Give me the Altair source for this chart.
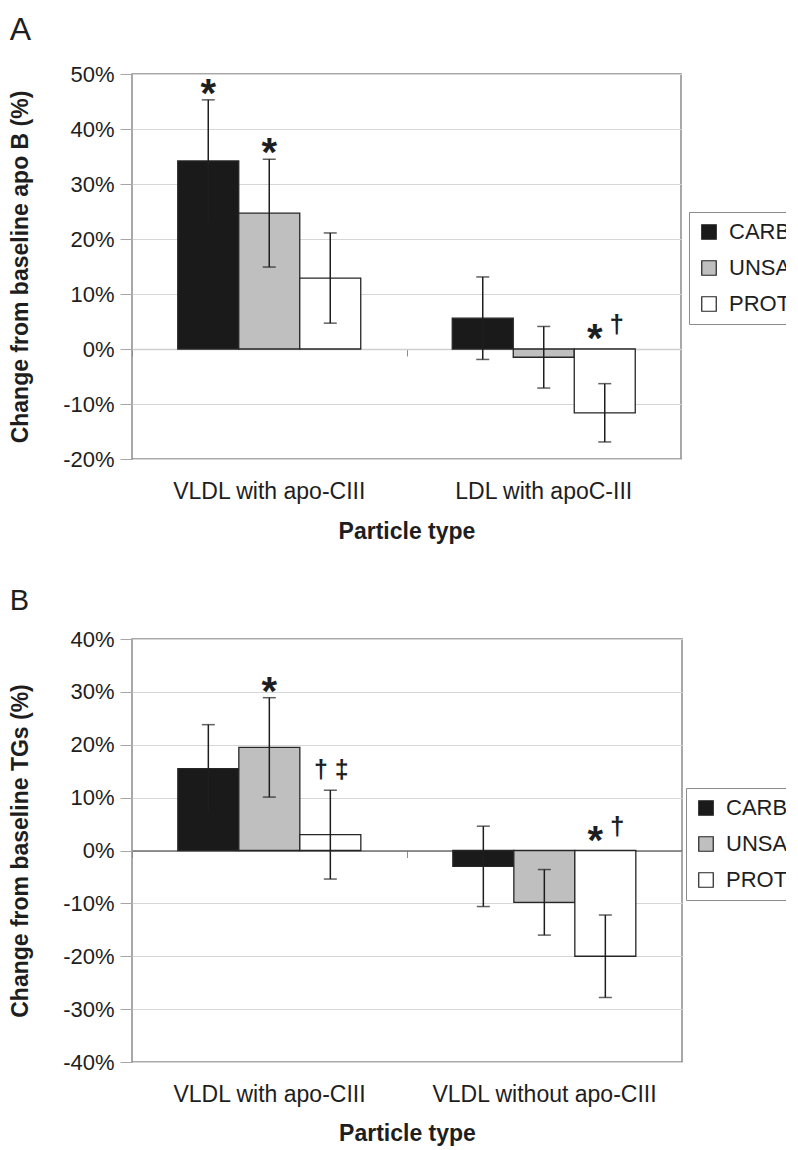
import altair as alt
import pandas as pd

FONT = "Liberation Sans"
SERIES = ["CARB", "UNSAT", "PROT"]
COLORS = ["#1a1a1a", "#bfbfbf", "#ffffff"]

# Panel A: change from baseline apo B (%)
A_GROUPS = ["VLDL with apo-CIII", "LDL with apoC-III"]
A_CARB = [34.2, 5.6]
A_UNSAT = [24.7, -1.5]
A_PROT = [12.9, -11.6]
A_CARB_ERR = [11.1, 7.5]
A_UNSAT_ERR = [9.8, 5.6]
A_PROT_ERR = [8.2, 5.3]
A_MARKS = [("VLDL with apo-CIII", "CARB", "*"),
           ("VLDL with apo-CIII", "UNSAT", "*"),
           ("LDL with apoC-III", "PROT", "* \u2020")]

# Panel B: change from baseline TGs (%)
B_GROUPS = ["VLDL with apo-CIII", "VLDL without apo-CIII"]
B_CARB = [15.5, -3.0]
B_UNSAT = [19.5, -9.8]
B_PROT = [3.0, -20.0]
B_CARB_ERR = [8.3, 7.6]
B_UNSAT_ERR = [9.4, 6.2]
B_PROT_ERR = [8.4, 7.8]
B_MARKS = [("VLDL with apo-CIII", "UNSAT", "*"),
           ("VLDL with apo-CIII", "PROT", "\u2020 \u2021"),
           ("VLDL without apo-CIII", "PROT", "* \u2020")]


def panel(groups, vals, errs, marks, ymin, ymax, width, height, letter,
          letter_size, title_offset, ytitle, legend_xy, zero_color,
          xlab_pad, xtitle_pad):
    rows = []
    for s, vl, el in zip(SERIES, vals, errs):
        for g, v, e in zip(groups, vl, el):
            rows.append(dict(group=g, series=s, value=v, lo=v - e, hi=v + e))
    df = pd.DataFrame(rows)

    ann = []
    for g, s, txt in marks:
        r = df[(df.group == g) & (df.series == s)].iloc[0]
        anchor = max(r.hi, 0.0)
        has_star = "*" in txt
        dag = txt.replace("*", "").strip()
        if has_star:
            ann.append(dict(group=g, series=s, anchor=anchor, glyph="*",
                            kind="star_pair" if dag else "star_solo"))
        if dag:
            ann.append(dict(group=g, series=s, anchor=anchor, glyph=dag,
                            kind="dag_pair" if has_star else "dag_solo"))
    adf = pd.DataFrame(ann)

    yscale = alt.Scale(domain=[ymin, ymax], nice=False, zero=False)
    xscale = alt.Scale(domain=groups, paddingInner=1 / 3, paddingOuter=1 / 6)
    offscale = alt.Scale(domain=SERIES, paddingInner=0, paddingOuter=0)
    ticks = list(range(ymin, ymax + 1, 10))
    step = width / 2.0

    yaxis = alt.Axis(values=ticks, labelExpr="datum.value + '%'",
                     tickSize=12, tickColor="#a6a6a6", tickWidth=1,
                     labelPadding=6, domain=False,
                     gridColor="#d6d6d6", gridWidth=1,
                     labelFontSize=22, labelColor="#1e1e1e",
                     title=ytitle, titleFontSize=23,
                     titleFontWeight="bold", titleColor="#1e1e1e",
                     titlePadding=30)

    base = alt.Chart(df)

    bars = base.mark_bar(stroke="#262626", strokeWidth=1.3).encode(
        x=alt.X("group:N", scale=xscale, sort=groups,
                axis=alt.Axis(orient="bottom", ticks=False, domain=False,
                              grid=False, labelAngle=0, labelFontSize=23,
                              labelColor="#1e1e1e", labelPadding=xlab_pad,
                              labelLimit=400, title="Particle type",
                              titleFontSize=23, titleFontWeight="bold",
                              titleColor="#1e1e1e", titlePadding=xtitle_pad)),
        xOffset=alt.XOffset("series:N", scale=offscale, sort=SERIES),
        y=alt.Y("value:Q", scale=yscale, axis=yaxis),
        color=alt.Color("series:N", sort=SERIES,
                        scale=alt.Scale(domain=SERIES, range=COLORS),
                        legend=alt.Legend(orient="none", legendX=legend_xy[0],
                                          legendY=legend_xy[1], title=None,
                                          symbolType="square", symbolSize=210,
                                          symbolStrokeColor="#222",
                                          symbolStrokeWidth=1.2,
                                          labelFontSize=22,
                                          labelColor="#1e1e1e",
                                          labelOffset=9, rowPadding=14,
                                          padding=9, strokeColor="#8c8c8c",
                                          fillColor="white", labelLimit=300)),
    )

    zero_px = height * (0 - ymin) / (ymax - ymin)
    zero_axis = base.mark_point(opacity=0).encode(
        x=alt.X("group:N", scale=xscale, sort=groups,
                axis=alt.Axis(orient="bottom", offset=-zero_px, labels=False,
                              title=None, grid=False, ticks=True, tickSize=7,
                              tickColor="#8c8c8c", tickWidth=1,
                              bandPosition=0.5, tickOffset=-step / 2,
                              domain=True, domainColor=zero_color,
                              domainWidth=1.3)),
        y=alt.Y("value:Q", scale=yscale, axis=yaxis),
    )

    err = base.mark_rule(color="#1e1e1e", strokeWidth=1.5).encode(
        x=alt.X("group:N", scale=xscale, sort=groups, axis=None),
        xOffset=alt.XOffset("series:N", scale=offscale, sort=SERIES),
        y=alt.Y("lo:Q", scale=yscale, axis=yaxis),
        y2="hi:Q",
    )
    cap_hi = base.mark_tick(color="#1e1e1e", size=13, thickness=1.5).encode(
        x=alt.X("group:N", scale=xscale, sort=groups, axis=None),
        xOffset=alt.XOffset("series:N", scale=offscale, sort=SERIES),
        y=alt.Y("hi:Q", scale=yscale, axis=yaxis),
    )
    cap_lo = base.mark_tick(color="#1e1e1e", size=13, thickness=1.5).encode(
        x=alt.X("group:N", scale=xscale, sort=groups, axis=None),
        xOffset=alt.XOffset("series:N", scale=offscale, sort=SERIES),
        y=alt.Y("lo:Q", scale=yscale, axis=yaxis),
    )

    def ann_layer(kind, size, dx, dy):
        return alt.Chart(adf).transform_filter(
            alt.datum.kind == kind
        ).mark_text(fontSize=size, fontWeight="bold", color="#1e1e1e",
                    dx=dx, dy=dy, baseline="alphabetic").encode(
            x=alt.X("group:N", scale=xscale, sort=groups, axis=None),
            xOffset=alt.XOffset("series:N", scale=offscale, sort=SERIES),
            y=alt.Y("anchor:Q", scale=yscale, axis=yaxis),
            text="glyph:N",
        )

    layers = [bars, zero_axis, err, cap_hi, cap_lo]
    kinds = set(adf.kind)
    if "star_solo" in kinds:
        layers.append(ann_layer("star_solo", 40, 0, 7))
    if "star_pair" in kinds:
        layers.append(ann_layer("star_pair", 40, -10, 3))
    if "dag_pair" in kinds:
        layers.append(ann_layer("dag_pair", 26, 12, -16))
    if "dag_solo" in kinds:
        layers.append(ann_layer("dag_solo", 25, 1, -12))

    return alt.layer(*layers).resolve_axis(x="independent").properties(
        width=width, height=height,
        title=alt.TitleParams(letter, anchor="start", frame="bounds",
                              fontSize=letter_size, fontWeight="normal",
                              color="#1e1e1e", offset=title_offset),
    )


chart_a = panel(A_GROUPS, [A_CARB, A_UNSAT, A_PROT],
                [A_CARB_ERR, A_UNSAT_ERR, A_PROT_ERR], A_MARKS,
                -20, 50, 549, 385, "A", 32, 16,
                "Change from baseline apo B (%)", (557, 138), "#cfcfcf",
                21, 17)
chart_b = panel(B_GROUPS, [B_CARB, B_UNSAT, B_PROT],
                [B_CARB_ERR, B_UNSAT_ERR, B_PROT_ERR], B_MARKS,
                -40, 40, 550, 423, "B", 29, 12,
                "Change from baseline TGs (%)", (554, 149), "#6e6e6e",
                21, 16)

chart = alt.vconcat(chart_a, chart_b, spacing=42).resolve_scale(
    color="independent"
).resolve_legend(color="independent").properties(
    padding={"left": 0, "top": 5, "right": -27, "bottom": 0}
).configure(font=FONT).configure_view(stroke="#8c8c8c", strokeWidth=1.5)

chart.save("out.html", embed_options={"renderer": "svg", "actions": False})
